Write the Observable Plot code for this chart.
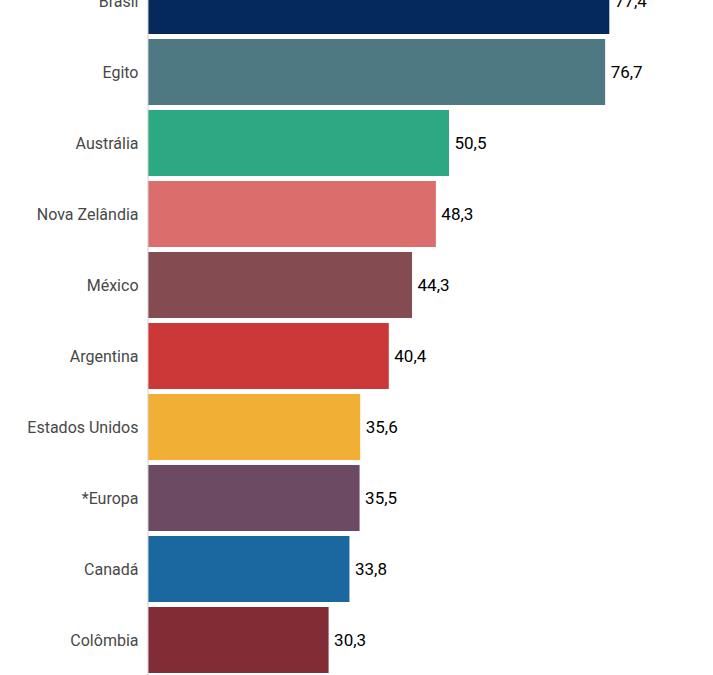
<!DOCTYPE html>
<html>
<head>
<meta charset="utf-8">
<script src="https://cdn.jsdelivr.net/npm/d3@7"></script>
<script src="https://cdn.jsdelivr.net/npm/@observablehq/plot@0.6"></script>
<style>
  html, body { margin: 0; padding: 0; background: #fff; overflow: hidden; }
  #chart svg { display: block; }
</style>
</head>
<body>
<div id="chart"></div>
<script>
const countries = ["Brasil", "Egito", "Austrália", "Nova Zelândia", "México", "Argentina", "Estados Unidos", "*Europa", "Canadá", "Colômbia"];
const values = [77.4, 76.7, 50.5, 48.3, 44.3, 40.4, 35.6, 35.5, 33.8, 30.3];
const colors = ["#06295c", "#4e7983", "#2ca882", "#db6e6c", "#844b51", "#cc3737", "#f1b035", "#6d4a64", "#1b68a0", "#822c35"];

const data = countries.map((c, i) => ({country: c, value: values[i], color: colors[i]}));
const fmt = v => v.toFixed(1).replace(".", ",");

const chart = Plot.plot({
  width: 713,
  height: 675,
  marginLeft: 0,
  marginRight: 0,
  marginTop: 0,
  marginBottom: 0,
  style: {fontFamily: "Roboto, sans-serif", background: "#fff", overflow: "hidden"},
  x: {domain: [0, 100], range: [148, 744], axis: null},
  y: {domain: countries, range: [-38.5, 679.3], padding: 0.074, axis: null},
  marks: [
    Plot.barX(data, {x: "value", y: "country", fill: "color"}),
    Plot.ruleX([0], {stroke: "#d0d0d0", strokeWidth: 1, dx: -0.5}),
    Plot.text(data, {x: 0, y: "country", text: "country", textAnchor: "end", dx: -10, fill: "#484848", fontSize: 16}),
    Plot.text(data, {x: "value", y: "country", text: d => fmt(d.value), textAnchor: "start", dx: 5, fill: "#000", fontSize: 17, fontWeight: 400})
  ]
});
document.getElementById("chart").appendChild(chart);
</script>
</body>
</html>
